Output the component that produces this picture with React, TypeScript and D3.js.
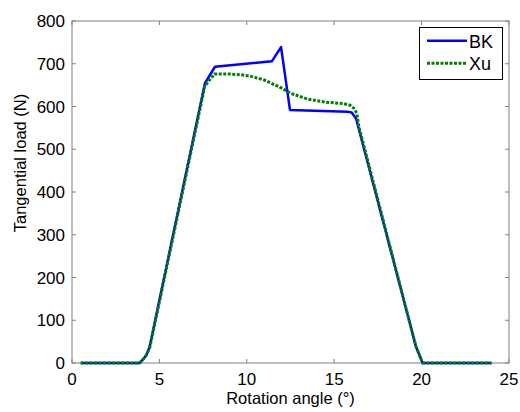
import React from "react";
import * as d3 from "d3";

const bkX = [0.5, 3.89, 4.27, 4.45, 7.6, 8.18, 11.44, 11.96, 12.47, 15.75, 16.0, 16.25, 19.68, 20.06, 24.0];
const bkY = [0, 0, 19, 40, 654, 693, 706, 739, 592, 588, 586, 572, 38, 0, 0];

const xuX = [0.5, 3.85, 4.2, 4.45, 7.6, 8.15, 9.0, 9.7, 10.2, 11.0, 12.0, 12.5, 13.5, 14.5, 15.5, 15.9, 16.15, 16.3, 16.4, 19.68, 20.06, 24.0];
const xuY = [0, 0, 14, 36, 648, 676, 676, 674, 671, 662, 643, 631, 617, 610, 607, 603, 595, 583, 555, 38, 0, 0];

const xTicks = [0, 5, 10, 15, 20, 25];
const yTicks = [0, 100, 200, 300, 400, 500, 600, 700, 800];
const seriesNames = ["BK", "Xu"];

export default function App() {
  const left = 72, right = 509, top = 21, bottom = 363;
  const x = d3.scaleLinear().domain([0, 25]).range([left, right]);
  const y = d3.scaleLinear().domain([0, 800]).range([bottom, top]);
  const line = d3.line<[number, number]>().x(d => x(d[0])).y(d => y(d[1]));
  const bk = line(bkX.map((v, i) => [v, bkY[i]]) as [number, number][]) || "";
  const xu = line(xuX.map((v, i) => [v, xuY[i]]) as [number, number][]) || "";
  const axisColor = "#808080";
  const font = "Liberation Sans, Arial, sans-serif";
  return (
    <svg width={520} height={412} style={{ position: "absolute", left: 0, top: 0, background: "#fff" }} fontFamily={font}>
      <rect x={0} y={0} width={520} height={412} fill="#fff" />
      <rect x={left} y={top} width={right - left} height={bottom - top} fill="none" stroke={axisColor} strokeWidth={1} />
      {xTicks.map(t => (
        <g key={"x" + t}>
          <line x1={x(t)} x2={x(t)} y1={bottom} y2={bottom - 4} stroke={axisColor} />
          <line x1={x(t)} x2={x(t)} y1={top} y2={top + 4} stroke={axisColor} />
          <text x={x(t)} y={385} textAnchor="middle" fontSize={17} fill="#000">{t}</text>
        </g>
      ))}
      {yTicks.map(t => (
        <g key={"y" + t}>
          <line x1={left} x2={left + 4} y1={y(t)} y2={y(t)} stroke={axisColor} />
          <line x1={right} x2={right - 4} y1={y(t)} y2={y(t)} stroke={axisColor} />
          <text x={65} y={y(t) + 6} textAnchor="end" fontSize={17} fill="#000">{t}</text>
        </g>
      ))}
      <path d={bk} fill="none" stroke="#0000ff" strokeWidth={2.5} strokeLinejoin="round" />
      <path d={xu} fill="none" stroke="#008000" strokeWidth={3} strokeDasharray="3,1.5" />
      <text x={(left + right) / 2} y={404} textAnchor="middle" fontSize={16.5} fill="#000">Rotation angle (°)</text>
      <text transform={`translate(26,${163}) rotate(-90)`} textAnchor="middle" fontSize={16.5} fill="#000">Tangential load (N)</text>
      <rect x={419.5} y={27.5} width={83} height={52} fill="#fff" stroke="#000" strokeWidth={1} />
      <line x1={427} x2={467} y1={40.7} y2={40.7} stroke="#0000ff" strokeWidth={2.5} />
      <line x1={427} x2={467} y1={63.3} y2={63.3} stroke="#008000" strokeWidth={3} strokeDasharray="3,1.5" />
      <text x={469} y={47.5} fontSize={18} fill="#000">{seriesNames[0]}</text>
      <text x={469} y={70} fontSize={18} fill="#000">{seriesNames[1]}</text>
    </svg>
  );
}
